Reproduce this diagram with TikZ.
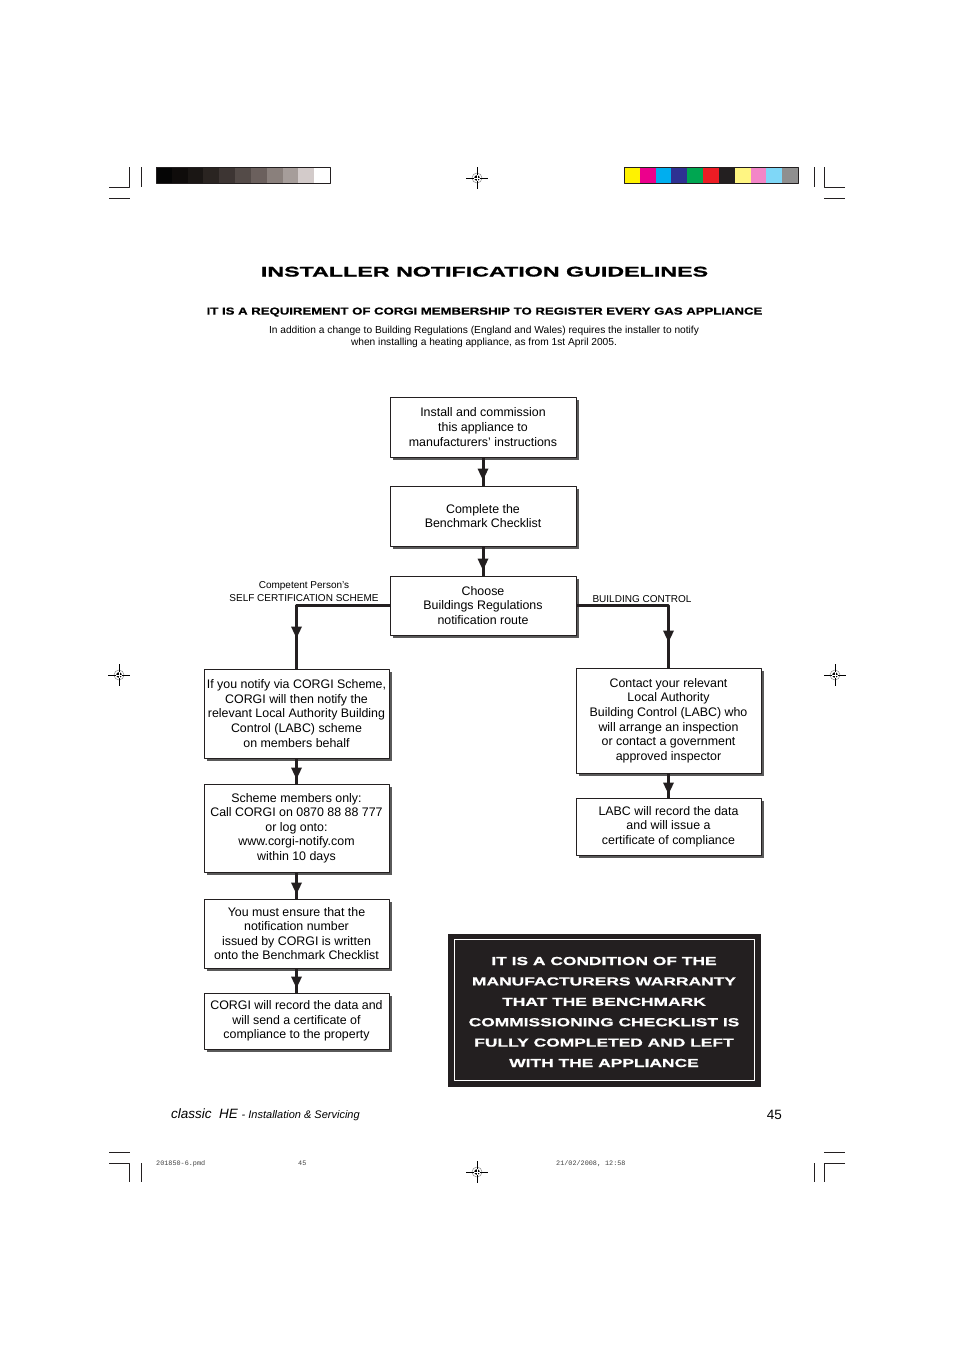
\documentclass[tikz,border=0pt]{standalone}
\usepackage{fontspec}
\setmainfont{Liberation Sans}
\setmonofont{Liberation Mono}
\newfontfamily\titlefont[FakeStretch=1.66,FakeBold=1.2]{Liberation Sans}
\newfontfamily\subfont[FakeStretch=1.29,FakeBold=0.6]{Liberation Sans}
\newfontfamily\warnfont[FakeStretch=1.5,FakeBold=1]{Liberation Sans}
\usetikzlibrary{arrows.meta,decorations.markings,shadows}
\definecolor{inkblack}{HTML}{231F20}
\definecolor{shade}{HTML}{5A5A5A}
\tikzset{
  box/.style={draw=inkblack,line width=.9pt,fill=white,align=center,inner sep=0pt,
    font=\fontsize{12.4}{14.6}\selectfont,
    general shadow={fill=shade,shadow xshift=3pt,shadow yshift=-3pt}},
  link/.style={draw=inkblack,line width=3pt},
  arrowat/.style={postaction={decorate},decoration={markings,
    mark=at position #1 with {\arrow{Triangle[length=12pt,width=10pt]}}}},
  route/.style={font=\fontsize{10}{13}\selectfont,align=center,inner sep=0pt},
  crop/.style={line width=.8pt,inkblack},
  slug/.style={font=\ttfamily\fontsize{6.8}{8}\selectfont,anchor=base west,inner sep=0pt,black!75},
  regmark/.pic={
    \draw[line width=.5pt,black!45] (0,0) circle (5);
    \draw[line width=.8pt] (-11,0) -- (11,0) (0,-11) -- (0,11);
    \fill (0,0) circle (2.8);
    \draw[white,line width=.5pt] (-2.8,0) -- (2.8,0) (0,-2.8) -- (0,2.8);
  }
}
\begin{document}
\begin{tikzpicture}[x=1pt,y=-1pt,line join=round]
\useasboundingbox (0,0) rectangle (954,1350);
% printer's marks
\draw[crop] (109,187)--(129,187)--(129,167) (141,167)--(141,187) (109,198)--(130,198);
\draw[crop] (845,187)--(824,187)--(824,167) (814,167)--(814,187) (824,198)--(845,198);
\draw[crop] (109,1163)--(129,1163)--(129,1182) (141,1163)--(141,1182) (109,1152)--(130,1152);
\draw[crop] (845,1163)--(824,1163)--(824,1182) (814,1163)--(814,1182) (824,1152)--(845,1152);
\foreach \c [count=\i from 0] in {050505,0F0C0B,1A1614,2A2421,3D3533,544B48,6B605D,8A807C,A69D9A,D3CBCA,FFFFFF}{
  \definecolor{sw}{HTML}{\c}
  \fill[sw] (156+\i*15.82,167) rectangle ++(15.82,16);
}
\draw[inkblack,line width=.8pt] (156,167) rectangle (330,183);
\foreach \c [count=\i from 0] in {FFF200,EC008C,00AEEF,2E3192,00A651,ED1C24,231F20,FFF582,F386C7,7FD7F7,8F8F8F}{
  \definecolor{sw}{HTML}{\c}
  \fill[sw] (624+\i*15.82,167) rectangle ++(15.82,16);
}
\draw[inkblack,line width=.8pt] (624,167) rectangle (798,183);
\pic at (477,178) {regmark};
\pic at (119,675) {regmark};
\pic at (835,675) {regmark};
\pic at (477,1172) {regmark};

% headings
\node[anchor=base,inner sep=0pt] (title) at (484.5,276.5)
  {\titlefont\fontsize{14}{16}\selectfont\bfseries INSTALLER NOTIFICATION GUIDELINES};
\node[anchor=base,inner sep=0pt] (subtitle) at (484.5,314.6)
  {\subfont\fontsize{10.2}{12}\selectfont\bfseries IT IS A REQUIREMENT OF CORGI MEMBERSHIP TO REGISTER EVERY GAS APPLIANCE};
\node[align=center,inner sep=0pt,font=\fontsize{10.2}{12}\selectfont] (intro) at (484,337)
  {In addition a change to Building Regulations (England and Wales) requires the installer to notify\\
   when installing a heating appliance, as from 1st April 2005.};

% flow chart
\node[box,minimum width=186pt,minimum height=60pt] (install) at (483,427)
  {Install and commission\\this appliance to\\manufacturers' instructions};
\node[box,minimum width=186pt,minimum height=60pt] (bench) at (483,516)
  {Complete the\\Benchmark Checklist};
\node[box,minimum width=186pt,minimum height=59pt] (choose) at (483,605.5)
  {Choose\\Buildings Regulations\\notification route};
\node[box,minimum width=185pt,minimum height=89pt] (viacorgi) at (296.5,713.5)
  {If you notify via CORGI Scheme,\\CORGI will then notify the\\relevant Local Authority Building\\Control (LABC) scheme\\on members behalf};
\node[box,minimum width=185pt,minimum height=88pt] (call) at (296.5,828)
  {Scheme members only:\\Call CORGI on 0870 88 88 777\\or log onto:\\www.corgi-notify.com\\within 10 days};
\node[box,minimum width=185pt,minimum height=69pt] (number) at (296.5,933.5)
  {You must ensure that the\\notification number\\issued by CORGI is written\\onto the Benchmark Checklist};
\node[box,minimum width=185pt,minimum height=56pt] (corgirec) at (296.5,1021)
  {CORGI will record the data and\\will send a certificate of\\compliance to the property};
\node[box,minimum width=185pt,minimum height=105pt] (contact) at (668.5,720.5)
  {Contact your relevant\\Local Authority\\Building Control (LABC) who\\will arrange an inspection\\or contact a government\\approved inspector};
\node[box,minimum width=185pt,minimum height=57pt] (labcrec) at (668.5,826.5)
  {LABC will record the data\\and will issue a\\certificate of compliance};

\node[route] (selfcert) at (304,592) {Competent Person's\\SELF CERTIFICATION SCHEME};
\node[route] (bcontrol) at (642,599) {BUILDING CONTROL};

\draw[link,arrowat=-5pt] (install) -- (bench);
\draw[link,arrowat=-5pt] (bench) -- (choose);
\draw[link,arrowat=-30pt] (choose.west) -| (viacorgi.north);
\draw[link,arrowat=-25pt] (choose.east) -| (contact.north);
\draw[link,arrowat=-4pt] (viacorgi) -- (call);
\draw[link,arrowat=-4pt] (call) -- (number);
\draw[link,arrowat=-4pt] (number) -- (corgirec);
\draw[link,arrowat=-3pt] (contact) -- (labcrec);

% warranty panel
\node[fill=inkblack,minimum width=313pt,minimum height=153pt,inner sep=0pt] (warranty) at (604.5,1010.5) {};
\draw[white,line width=.9pt] ([shift={(7,6)}]warranty.north west) rectangle ([shift={(-6.5,-6.5)}]warranty.south east);
\node[align=center,inner sep=0pt,text=white,font=\warnfont\fontsize{11.6}{20.4}\selectfont\bfseries]
  (warntext) at (604,1012)
  {IT IS A CONDITION OF THE\\MANUFACTURERS WARRANTY\\THAT THE BENCHMARK\\COMMISSIONING CHECKLIST IS\\FULLY COMPLETED AND LEFT\\WITH THE APPLIANCE};

% footer
\node[anchor=base west,inner sep=0pt] (footer) at (171,1118.5)
  {\itshape\fontsize{13.5}{15}\selectfont classic\ \ HE \fontsize{11}{13}\selectfont- Installation \& Servicing};
\node[anchor=base east,inner sep=0pt,font=\fontsize{13.5}{15}\selectfont] (page) at (782,1119) {45};
\node[slug] (file) at (156,1165) {201850-6.pmd};
\node[slug] (slugpage) at (298,1165) {45};
\node[slug] (stamp) at (556,1165) {21/02/2008, 12:58};
\end{tikzpicture}
\end{document}
